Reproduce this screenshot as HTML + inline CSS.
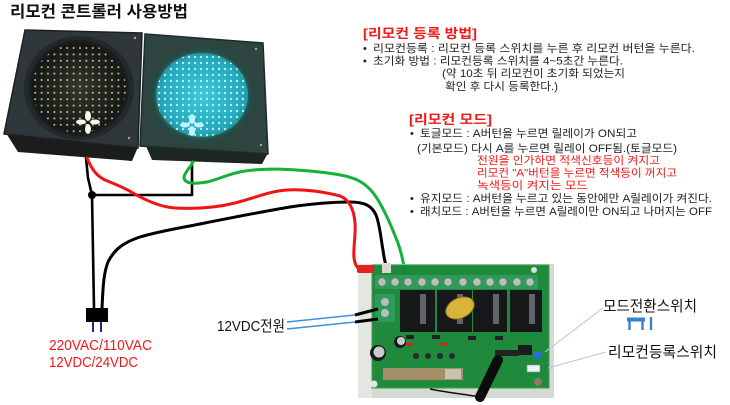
<!DOCTYPE html>
<html><head><meta charset="utf-8">
<style>
html,body{margin:0;padding:0;background:#fff;}
svg{display:block;}
text{font-family:"Liberation Sans","Noto Sans CJK KR",sans-serif;}
</style></head>
<body>
<svg width="730" height="405" viewBox="0 0 730 405" xmlns="http://www.w3.org/2000/svg">
<defs>
  <pattern id="dotsW" x="0" y="0" width="6.4" height="6.4" patternUnits="userSpaceOnUse">
    <circle cx="3.2" cy="3.2" r="1" fill="#e8f0e0"/>
  </pattern>
  <pattern id="dotsC" x="0" y="0" width="6" height="6" patternUnits="userSpaceOnUse">
    <circle cx="3" cy="3" r="1.2" fill="#c8fbff"/>
  </pattern>
  <radialGradient id="lensL" cx="50%" cy="50%" r="55%">
    <stop offset="0" stop-color="#35372c"/>
    <stop offset="1" stop-color="#121410"/>
  </radialGradient>
  <radialGradient id="lensR" cx="50%" cy="50%" r="55%">
    <stop offset="0" stop-color="#3cc8dc"/>
    <stop offset="0.8" stop-color="#24a8bc"/>
    <stop offset="1" stop-color="#1c8a8c"/>
  </radialGradient>
  <radialGradient id="glowR" cx="50%" cy="50%" r="50%">
    <stop offset="0.8" stop-color="#2a8a80"/>
    <stop offset="1" stop-color="#2a4a46"/>
  </radialGradient>
  <clipPath id="clipL"><ellipse cx="79" cy="88" rx="47" ry="45"/></clipPath>
  <clipPath id="clipR"><ellipse cx="202" cy="95" rx="46" ry="42"/></clipPath>
</defs>

<!-- Title -->
<text x="10" y="17" font-size="16" font-weight="bold" fill="#111" textLength="178" lengthAdjust="spacingAndGlyphs">리모컨 콘트롤러 사용방법</text>

<!-- ===== Traffic lights ===== -->
<polygon points="6,133 138,147 132,161 18,152" fill="#1b1d1d"/>
<polygon points="25,30 142,33 138,148 4,134" fill="#30373a" stroke="#1c2022" stroke-width="1.5"/>
<ellipse cx="79" cy="88" rx="55" ry="52" fill="#23292b"/>
<ellipse cx="79" cy="88" rx="50" ry="48" fill="#1a1e1e"/>
<ellipse cx="79" cy="88" rx="47" ry="45" fill="url(#lensL)"/>
<ellipse cx="79" cy="88" rx="47" ry="45" fill="url(#dotsW)" clip-path="url(#clipL)" opacity="0.8"/>
<g fill="#f4f8ef">
  <ellipse cx="88" cy="116" rx="3" ry="5"/>
  <ellipse cx="88" cy="129" rx="3" ry="5"/>
  <ellipse cx="81" cy="122" rx="5" ry="2.5"/>
  <ellipse cx="95" cy="122" rx="5" ry="2.5"/>
</g>
<circle cx="135" cy="38" r="1.2" fill="#c8a040"/>
<circle cx="129" cy="138" r="1.2" fill="#c8a040"/>

<polygon points="146,146 268,153 262,164 152,160" fill="#1e2624"/>
<polygon points="145,34 263,43 268,154 140,146" fill="#2e4440" stroke="#1c2a28" stroke-width="1.5"/>
<ellipse cx="202" cy="95" rx="53" ry="49" fill="#254a44"/>
<ellipse cx="202" cy="95" rx="49" ry="45" fill="url(#glowR)"/>
<ellipse cx="202" cy="95" rx="46" ry="42" fill="url(#lensR)"/>
<ellipse cx="202" cy="95" rx="46" ry="42" fill="url(#dotsC)" clip-path="url(#clipR)" opacity="0.85"/>
<g fill="#c0f4ff">
  <ellipse cx="192" cy="119" rx="3" ry="5"/>
  <ellipse cx="192" cy="131" rx="3" ry="5"/>
  <ellipse cx="185" cy="125" rx="5" ry="2.5"/>
  <ellipse cx="199" cy="125" rx="5" ry="2.5"/>
</g>
<circle cx="256" cy="49" r="1.2" fill="#c8a040"/>
<circle cx="261" cy="145" r="1.2" fill="#c8a040"/>

<!-- ===== Wires ===== -->
<g fill="none" stroke-linecap="round" stroke-linejoin="round">
  <path d="M86,158 L88,178 L92,195 L94,308" stroke="#000" stroke-width="2.6"/>
  <path d="M92,195 L192,195 L192,163" stroke="#000" stroke-width="2.6"/>
  <path d="M102,308 C103,290 103,275 108,262 C115,248 125,242 140,237 C160,231 180,228 200,224 C230,218 260,212 290,207 C310,204 330,202 350,202 C365,202 372,206 376,215 C380,225 381,240 383,250 C384,258 385,262 386,265" stroke="#000" stroke-width="3"/>
  <path d="M87,158 C92,170 97,176 105,180 C115,184 125,188 133,193 C145,200 160,207 175,208 C195,209 215,208 235,203 C255,198 270,191 287,190 C305,189 325,192 340,196 C350,200 354,210 355,223 C356,235 353,248 354,258 C355,265 357,268 360,269" stroke="#f01414" stroke-width="3"/>
  <path d="M193,162 C190,168 184,173 184,178 C185,184 195,184 207,182 C220,179 230,173 245,171 C265,168 285,169 310,171 C330,173 345,175 355,179 C365,183 372,190 378,200 C386,213 392,228 398,243 C401,252 403,260 404,267" stroke="#16b03a" stroke-width="3"/>
</g>
<circle cx="92" cy="195" r="4" fill="#000"/>

<rect x="86" y="308" width="22" height="14" fill="#000"/>
<line x1="93" y1="322" x2="93" y2="332" stroke="#1a2a7a" stroke-width="2"/>
<line x1="101" y1="322" x2="101" y2="332" stroke="#1a2a7a" stroke-width="2"/>

<!-- ===== Board ===== -->
<rect x="358" y="264" width="196" height="134" fill="#d6dad6"/>
<rect x="358" y="264" width="14" height="134" fill="#e4e6e2"/>
<rect x="372" y="265" width="177" height="123" fill="#1f8a3c"/>
<rect x="372" y="265" width="177" height="123" fill="none" stroke="#3aa050" stroke-width="1"/>
<rect x="375" y="275" width="163" height="14" fill="#2f9a5c"/>
<g fill="#b8c0b8" stroke="#6a7a6a" stroke-width="0.6">
  <circle cx="382" cy="282" r="4"/><circle cx="395" cy="282" r="4"/><circle cx="408" cy="282" r="4"/>
  <circle cx="422" cy="282" r="4"/><circle cx="435" cy="282" r="4"/><circle cx="448" cy="282" r="4"/>
  <circle cx="463" cy="282" r="4"/><circle cx="477" cy="282" r="4"/><circle cx="490" cy="282" r="4"/>
  <circle cx="503" cy="282" r="4"/><circle cx="517" cy="282" r="4"/><circle cx="530" cy="282" r="4"/>
</g>
<rect x="357" y="265" width="17" height="8" rx="2" fill="#e82020"/>
<rect x="382" y="263" width="9" height="10" fill="#d8d8d0"/>
<rect x="401" y="265" width="6" height="9" fill="#128a30"/>
<g fill="#151718">
  <rect x="400" y="290" width="35" height="42"/>
  <rect x="437" y="290" width="35" height="42"/>
  <rect x="473" y="290" width="34" height="42"/>
  <rect x="510" y="290" width="32" height="42"/>
</g>
<g fill="#606468">
  <rect x="420" y="294" width="6" height="30"/>
  <rect x="457" y="294" width="6" height="30"/>
  <rect x="493" y="294" width="6" height="30"/>
  <rect x="529" y="294" width="6" height="30"/>
</g>
<ellipse cx="460" cy="308" rx="15" ry="10" fill="#d8b43a" stroke="#8a6a1a" stroke-width="1" transform="rotate(-25 460 308)"/>
<rect x="375" y="294" width="20" height="28" fill="#2f9a5c"/>
<circle cx="385" cy="302" r="4" fill="#b8c0b8"/>
<circle cx="385" cy="313" r="4" fill="#b8c0b8"/>
<rect x="406" y="335" width="8" height="4" fill="#222"/>
<rect x="432" y="335" width="8" height="4" fill="#222"/>
<rect x="468" y="336" width="8" height="4" fill="#222"/>
<rect x="495" y="336" width="8" height="4" fill="#222"/>
<rect x="405" y="343" width="8" height="3" fill="#c03020"/>
<rect x="440" y="343" width="8" height="3" fill="#c03020"/>
<g fill="#2a2a2a">
  <circle cx="416" cy="356" r="3"/><circle cx="428" cy="356" r="3"/><circle cx="440" cy="356" r="3"/><circle cx="452" cy="356" r="3"/>
</g>
<circle cx="378" cy="353" r="8" fill="#1a1a1a"/>
<circle cx="379" cy="352" r="5.5" fill="#c8ccc8"/>
<circle cx="400" cy="342" r="6" fill="#1a1a1a"/>
<circle cx="401" cy="341" r="4" fill="#c8ccc8"/>
<rect x="518" y="345" width="14" height="10" fill="#1c1c1c"/>
<rect x="495" y="350" width="24" height="6" fill="#222"/>
<rect x="383" y="368" width="80" height="12" fill="#a48e66"/>
<rect x="445" y="369" width="16" height="10" fill="#c8c2b0"/>
<rect x="534" y="352" width="7" height="6" fill="#2a70d0"/>
<rect x="527" y="365" width="13" height="7" fill="#f0f2f4" stroke="#8090a0" stroke-width="0.6"/>
<circle cx="538" cy="382" r="4" fill="#8a7a6a"/>
<circle cx="374" cy="384" r="3.5" fill="#e8e8e8"/>
<circle cx="534" cy="270" r="3" fill="#e0e0e0"/>
<path d="M498,360 C492,372 486,385 480,397" stroke="#0c0c0c" stroke-width="10" fill="none" stroke-linecap="round"/>
<path d="M480,397 C470,395 450,393 430,389" stroke="#111" stroke-width="1.5" fill="none"/>

<path d="M355,315 L378,309" stroke="#000" stroke-width="3"/>
<path d="M355,322 L378,319" stroke="#000" stroke-width="3"/>
<line x1="287" y1="322" x2="355" y2="315" stroke="#3a90e0" stroke-width="1.6"/>
<line x1="287" y1="329" x2="355" y2="322" stroke="#3a90e0" stroke-width="1.6"/>
<text x="217" y="331" font-size="15" fill="#111" textLength="68" lengthAdjust="spacingAndGlyphs">12VDC전원</text>

<text x="49" y="350" font-size="15" fill="#f01818" textLength="103" lengthAdjust="spacingAndGlyphs">220VAC/110VAC</text>
<text x="49" y="367" font-size="15" fill="#f01818" textLength="89" lengthAdjust="spacingAndGlyphs">12VDC/24VDC</text>

<line x1="603" y1="308" x2="545" y2="352" stroke="#a8c8ea" stroke-width="1"/>
<line x1="606" y1="352" x2="548" y2="368" stroke="#a8c8ea" stroke-width="1"/>
<text x="603" y="311" font-size="15" fill="#111" textLength="94" lengthAdjust="spacingAndGlyphs">모드전환스위치</text>
<text x="608" y="357" font-size="15" fill="#111" textLength="109" lengthAdjust="spacingAndGlyphs">리모컨등록스위치</text>
<g stroke="#3a80d0" stroke-width="2.4" fill="none">
  <line x1="627" y1="319.5" x2="645" y2="319.5" stroke-width="4"/>
  <line x1="629.5" y1="321" x2="629.5" y2="330"/>
  <line x1="642.5" y1="321" x2="642.5" y2="330"/>
  <line x1="651" y1="317" x2="651" y2="330"/>
</g>

<text x="363" y="38" font-size="13" font-weight="bold" fill="#f01818" textLength="114" lengthAdjust="spacingAndGlyphs">[리모컨 등록 방법]</text>
<g font-size="11" fill="#222">
  <text x="363" y="52">•</text>
  <text x="373" y="52" textLength="322" lengthAdjust="spacingAndGlyphs">리모컨등록 :  리모컨 등록 스위치를 누른 후 리모컨 버턴을 누른다.</text>
  <text x="363" y="64.5">•</text>
  <text x="373" y="64.5" textLength="250" lengthAdjust="spacingAndGlyphs">초기화 방법 : 리모컨등록 스위치를 4~5초간 누른다.</text>
  <text x="442" y="77" textLength="183" lengthAdjust="spacingAndGlyphs">(약 10초 뒤 리모컨이 초기화 되었는지</text>
  <text x="445" y="90" textLength="113" lengthAdjust="spacingAndGlyphs">확인 후 다시 등록한다.)</text>
</g>

<text x="409" y="124" font-size="13" font-weight="bold" fill="#f01818" textLength="83" lengthAdjust="spacingAndGlyphs">[리모컨 모드]</text>
<g font-size="11" fill="#222">
  <text x="410" y="137">•</text>
  <text x="420" y="137" textLength="217" lengthAdjust="spacingAndGlyphs">토글모드 : A버턴을 누르면 릴레이가 ON되고</text>
  <text x="417" y="152" textLength="260" lengthAdjust="spacingAndGlyphs">(기본모드)  다시 A를 누르면 릴레이 OFF됨.(토글모드)</text>
  <text x="410" y="202">•</text>
  <text x="420" y="202" textLength="292" lengthAdjust="spacingAndGlyphs">유지모드 : A버턴을 누르고 있는 동안에만 A릴레이가 켜진다.</text>
  <text x="410" y="215">•</text>
  <text x="420" y="215" textLength="292" lengthAdjust="spacingAndGlyphs">래치모드 : A버턴을 누르면 A릴레이만 ON되고 나머지는 OFF</text>
</g>
<g font-size="11" fill="#f01818">
  <text x="477" y="164" textLength="183" lengthAdjust="spacingAndGlyphs">전원을 인가하면 적색신호등이 켜지고</text>
  <text x="477" y="176.5" textLength="200" lengthAdjust="spacingAndGlyphs">리모컨 "A"버턴을 누르면 적색등이 꺼지고</text>
  <text x="477" y="189" textLength="111" lengthAdjust="spacingAndGlyphs">녹색등이 켜지는 모드</text>
</g>
</svg>
</body></html>
